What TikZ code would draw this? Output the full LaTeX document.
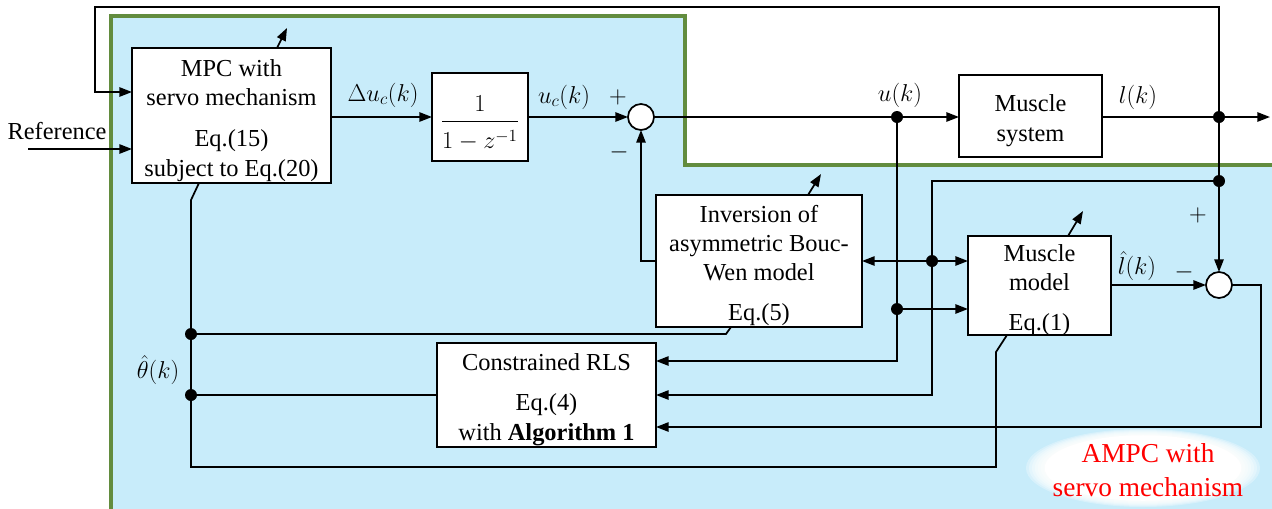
\RequirePackage{fix-cm}
\documentclass[tikz,border=0pt]{standalone}
\usepackage{fontspec}
\setmainfont{Liberation Serif}
\usetikzlibrary{arrows.meta,calc}
\definecolor{panel}{RGB}{200,236,250}
\definecolor{frame}{RGB}{98,140,62}
\tikzset{
  base/.style={font=\fontsize{18.3}{22}\selectfont},
  blk/.style={draw, fill=white, line width=1.3pt, rectangle, inner sep=0pt, outer sep=0pt},
  txt/.style={base, inner sep=0pt, align=center},
  sumj/.style={draw, fill=white, circle, line width=1.3pt, minimum size=19.5pt, inner sep=0pt, outer sep=0pt},
  dot/.style={circle, fill, inner sep=0pt, minimum size=9pt},
  wire/.style={line width=1.3pt},
  arr/.style={wire, -{Triangle[length=9.5pt,width=7pt]}},
  lbl/.style={base, inner sep=0pt},
}
\begin{document}
\begin{tikzpicture}[x=0.75pt,y=-0.75pt]
\useasboundingbox (0,0) rectangle (1272,508);

% adaptive controller panel
\fill[panel] (111,16) -- (685,16) -- (685,165) -- (1290,165) -- (1290,530) -- (111,530) -- cycle;
\draw[frame, line width=2.3pt] (111,530) -- (111,16) -- (685,16) -- (685,165) -- (1290,165);

% soft white badge
\foreach \k in {1.00,0.975,...,0.85}
  \fill[white, opacity=0.3] (1143,468) ellipse ({117*\k} and {39*\k});
\fill[white] (1143,468) ellipse ({117*0.84} and {39*0.84});
\node[text=red, align=center, inner sep=0pt, font=\fontsize{20.5}{26}\selectfont] (badge) at (1148,470) {AMPC with\\servo mechanism};

% blocks
\node[blk, minimum width=149.25pt, minimum height=101.25pt] (mpc) at (231.5,115.5) {};
\node[txt] (mpc-t) at ([yshift=-3.5pt]mpc.center)
  {MPC with\\servo mechanism\\[9pt]Eq.(15)\\subject to Eq.(20)};
\node[blk, minimum width=72pt, minimum height=66pt] (tf) at (480,117) {};
\node[txt] (tf-t) at ([yshift=-4.5pt]tf.center)
  {$\displaystyle\frac{1}{\rule{0pt}{19pt}1-z^{-1}}$};
\node[sumj] (s1) at (641,117) {};
\node[blk, minimum width=107.25pt, minimum height=61.5pt] (msys) at (1030.5,116) {};
\node[txt] (msys-t) at ([yshift=-3.5pt]msys.center) {Muscle\\system};
\node[blk, minimum width=154.5pt, minimum height=99pt] (inv) at (759,261) {};
\node[txt] (inv-t) at ([yshift=-3.5pt]inv.center)
  {Inversion of\\asymmetric Bouc-\\Wen model\\[8pt]Eq.(5)};
\node[blk, minimum width=107.25pt, minimum height=74.25pt] (mm) at (1039.5,285.5) {};
\node[txt] (mm-t) at ([yshift=-3.5pt]mm.center) {Muscle\\model\\[8pt]Eq.(1)};
\node[sumj] (s2) at (1219,285) {};
\node[blk, minimum width=164.25pt, minimum height=78pt] (rls) at (546.5,395) {};
\node[txt] (rls-t) at ([yshift=-3.5pt]rls.center)
  {Constrained RLS\\[8pt]Eq.(4)\\with \textbf{Algorithm 1}};

% branch points
\node[dot] (du) at (897,117) {};
\node[dot] (dl) at (1219,117) {};
\node[dot] (dlf) at (1219,181) {};
\node[dot] (da) at (932,261) {};
\node[dot] (db) at (897,309) {};
\node[dot] (dt1) at (191,334) {};
\node[dot] (dt2) at (191,395) {};

\coordinate (ref) at (28,149);
\coordinate (out) at (1270,117);
\coordinate (fbl) at (95,7);
\coordinate (tune1) at (287,28);
\coordinate (tune2) at (821,174);
\coordinate (tune3) at (1083,211);

% forward path
\draw[arr] (ref) -- (mpc.west |- ref);
\draw[arr] (mpc.east |- tf.west) -- (tf.west);
\draw[arr] (tf.east) -- (s1.west);
\draw[wire] (s1.east) -- (du.center);
\draw[arr] (du.center) -- (msys.west |- du);
\draw[wire] (msys.east |- dl) -- (dl.center);
\draw[arr] (dl.center) -- (out);

% output feedback to the controller
\draw[arr] (dl.center) |- (fbl) -- (95,92) -- (mpc.west |- 0,92);
\draw[arr] (dl.center) -- (s2.north);

% measured length to the models and the estimator
\draw[wire] (dlf.center) -| (da.center);
\draw[arr] (da.center) |- (rls.east |- 0,395);
\draw[arr] (da.center) -- (inv.east |- da);
\draw[arr] (da.center) -- (mm.west |- da);

% input to the model and the estimator
\draw[wire] (du.center) -- (db.center);
\draw[arr] (db.center) |- (rls.east |- 0,361);
\draw[arr] (db.center) -- (mm.west |- db);

% compensation and model error
\draw[arr] (inv.west) -| (s1.south);
\draw[arr] (mm.east |- s2) -- (s2.west);
\draw[arr] (s2.east) -| (1261,427) -- (rls.east |- 0,427);

% parameter estimate distribution
\draw[wire] (mpc.south -| 199,0) -- (191,200) -- (191,467) -- (996,467) -- (996,352) -- (mm.south -| 1007,0);
\draw[wire] (dt1.center) -- (726,334) -- (inv.south -| 731,0);
\draw[wire] (rls.west) -- (dt2.center);

% adaptation arrows
\draw[arr] (mpc.north -| 277,0) -- (tune1);
\draw[arr] (inv.north -| 808,0) -- (tune2);
\draw[arr] (mm.north -| 1068,0) -- (tune3);

% signal labels
\node[lbl] (lref) at (57,131) {Reference};
\node[lbl] (ldu) at (383,95) {$\Delta u_c(k)$};
\node[lbl] (luc) at (564,97) {$u_c(k)$};
\node[lbl] (lp1) at (618,97) {$+$};
\node[lbl] (lm1) at (619,152) {$-$};
\node[lbl] (lu) at (900,95) {$u(k)$};
\node[lbl] (ll) at (1138,97) {$l(k)$};
\node[lbl] (llh) at (1137,266) {$\hat{l}(k)$};
\node[lbl] (lp2) at (1198,215) {$+$};
\node[lbl] (lm2) at (1184,272) {$-$};
\node[lbl] (lth) at (158,370) {$\hat{\theta}(k)$};
\end{tikzpicture}
\end{document}
